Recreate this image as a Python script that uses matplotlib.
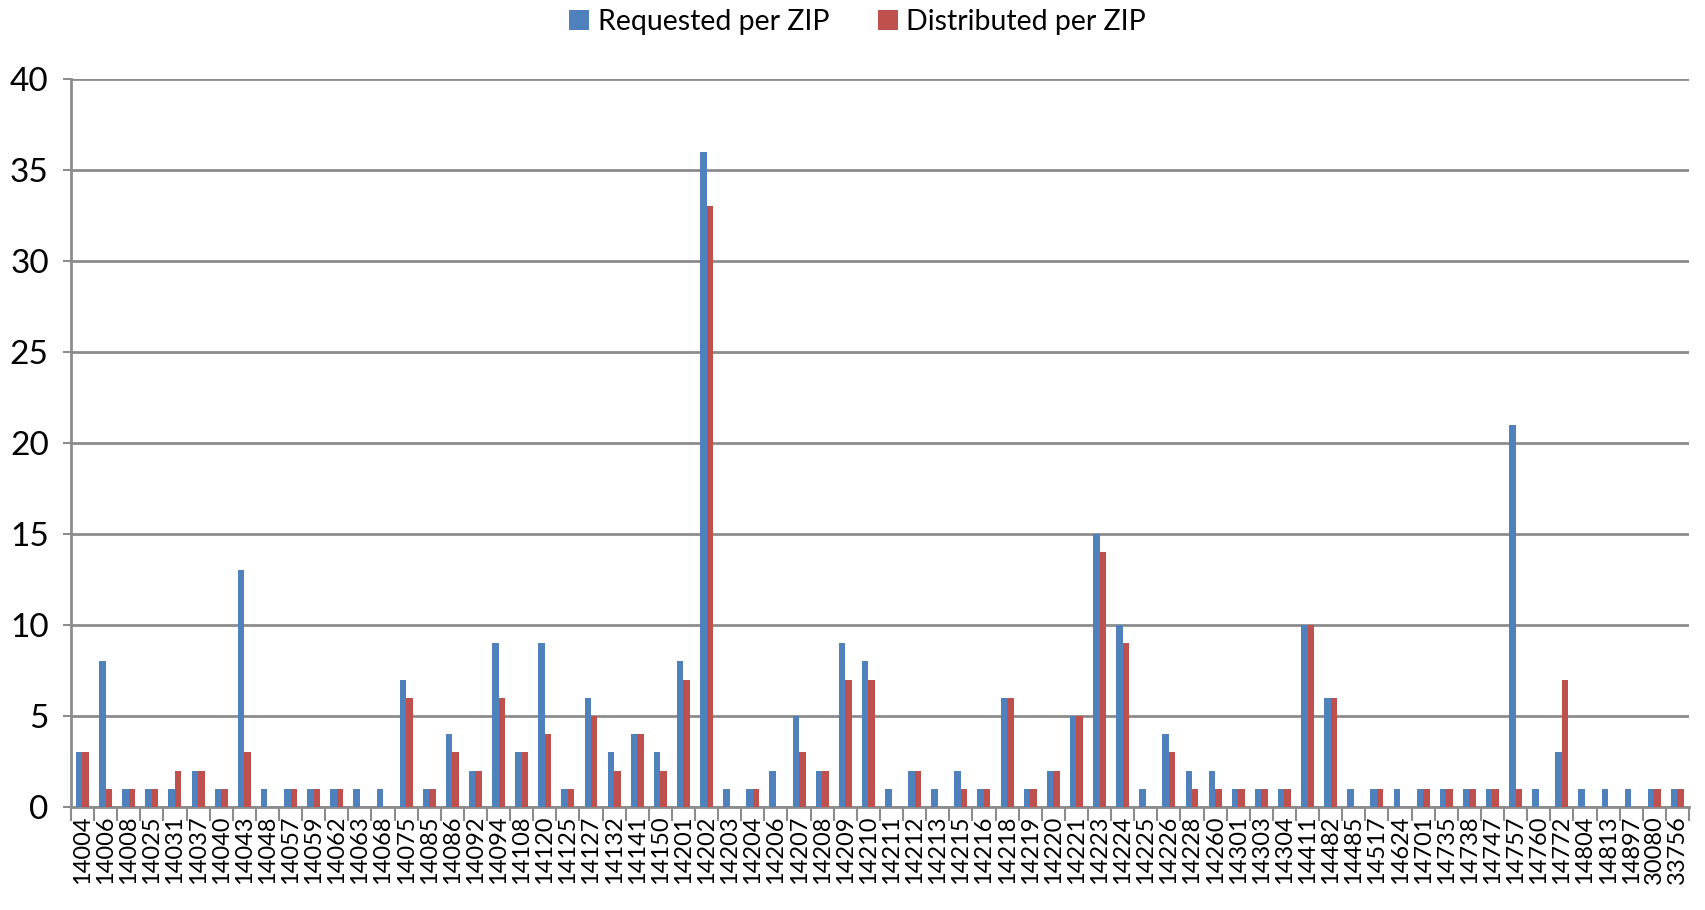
import numpy as np
import matplotlib
matplotlib.use("Agg")
import matplotlib.pyplot as plt
from matplotlib.ticker import FixedLocator, NullFormatter

zips = ["14004", "14006", "14008", "14025", "14031", "14037", "14040", "14043", "14048", "14057",
        "14059", "14062", "14063", "14068", "14075", "14085", "14086", "14092", "14094", "14108",
        "14120", "14125", "14127", "14132", "14141", "14150", "14201", "14202", "14203", "14204",
        "14206", "14207", "14208", "14209", "14210", "14211", "14212", "14213", "14215", "14216",
        "14218", "14219", "14220", "14221", "14223", "14224", "14225", "14226", "14228", "14260",
        "14301", "14303", "14304", "14411", "14482", "14485", "14517", "14624", "14701", "14735",
        "14738", "14747", "14757", "14760", "14772", "14804", "14813", "14897", "30080", "33756"]

requested = [3, 8, 1, 1, 1, 2, 1, 13, 1, 1,
             1, 1, 1, 1, 7, 1, 4, 2, 9, 3,
             9, 1, 6, 3, 4, 3, 8, 36, 1, 1,
             2, 5, 2, 9, 8, 1, 2, 1, 2, 1,
             6, 1, 2, 5, 15, 10, 1, 4, 2, 2,
             1, 1, 1, 10, 6, 1, 1, 1, 1, 1,
             1, 1, 21, 1, 3, 1, 1, 1, 1, 1]

distributed = [3, 1, 1, 1, 2, 2, 1, 3, 0, 1,
               1, 1, 0, 0, 6, 1, 3, 2, 6, 3,
               4, 1, 5, 2, 4, 2, 7, 33, 0, 1,
               0, 3, 2, 7, 7, 0, 2, 0, 1, 1,
               6, 1, 2, 5, 14, 9, 0, 3, 1, 1,
               1, 1, 1, 10, 6, 0, 1, 0, 1, 1,
               1, 1, 1, 0, 7, 0, 0, 0, 1, 1]

blue = "#4F81BD"
red = "#C0504D"
grid_col = "#8C8C8C"

plt.rcParams["font.family"] = ["Lato", "DejaVu Sans"]

fig = plt.figure(figsize=(17.05, 9.1), dpi=100)
ax = fig.add_axes([0.0416, 0.1132, 0.949, 0.80])

x = np.arange(len(zips))
w = 0.28
ax.bar(x - w / 2, requested, width=w, color=blue, label="Requested per ZIP", zorder=3)
ax.bar(x + w / 2, distributed, width=w, color=red, label="Distributed per ZIP", zorder=3)

ax.set_xlim(-0.5, len(zips) - 0.5)
ax.set_ylim(0, 40)
ax.set_yticks(range(0, 41, 5))
ax.tick_params(axis="y", labelsize=24, length=6, color=grid_col, width=1.5, pad=10)

# category labels centred, tick marks between categories
ax.set_xticks(x)
ax.set_xticklabels(zips, rotation=90, fontsize=17)
ax.tick_params(axis="x", which="major", length=0, pad=6)
ax.xaxis.set_minor_locator(FixedLocator(np.arange(-0.5, len(zips), 1.0)))
ax.xaxis.set_minor_formatter(NullFormatter())
ax.tick_params(axis="x", which="minor", length=10, color=grid_col, width=1.5)

ax.grid(axis="y", color=grid_col, linewidth=2, zorder=0)
for s in ["top", "right"]:
    ax.spines[s].set_visible(False)
for s in ["left", "bottom"]:
    ax.spines[s].set_color(grid_col)
    ax.spines[s].set_linewidth(2)

fig.legend(loc="upper center", bbox_to_anchor=(0.503, 1.018), ncol=2, frameon=False,
           fontsize=20.5, handlelength=0.7, handleheight=0.7, handletextpad=0.3,
           columnspacing=1.7)

fig.savefig("out.png", dpi=100)
